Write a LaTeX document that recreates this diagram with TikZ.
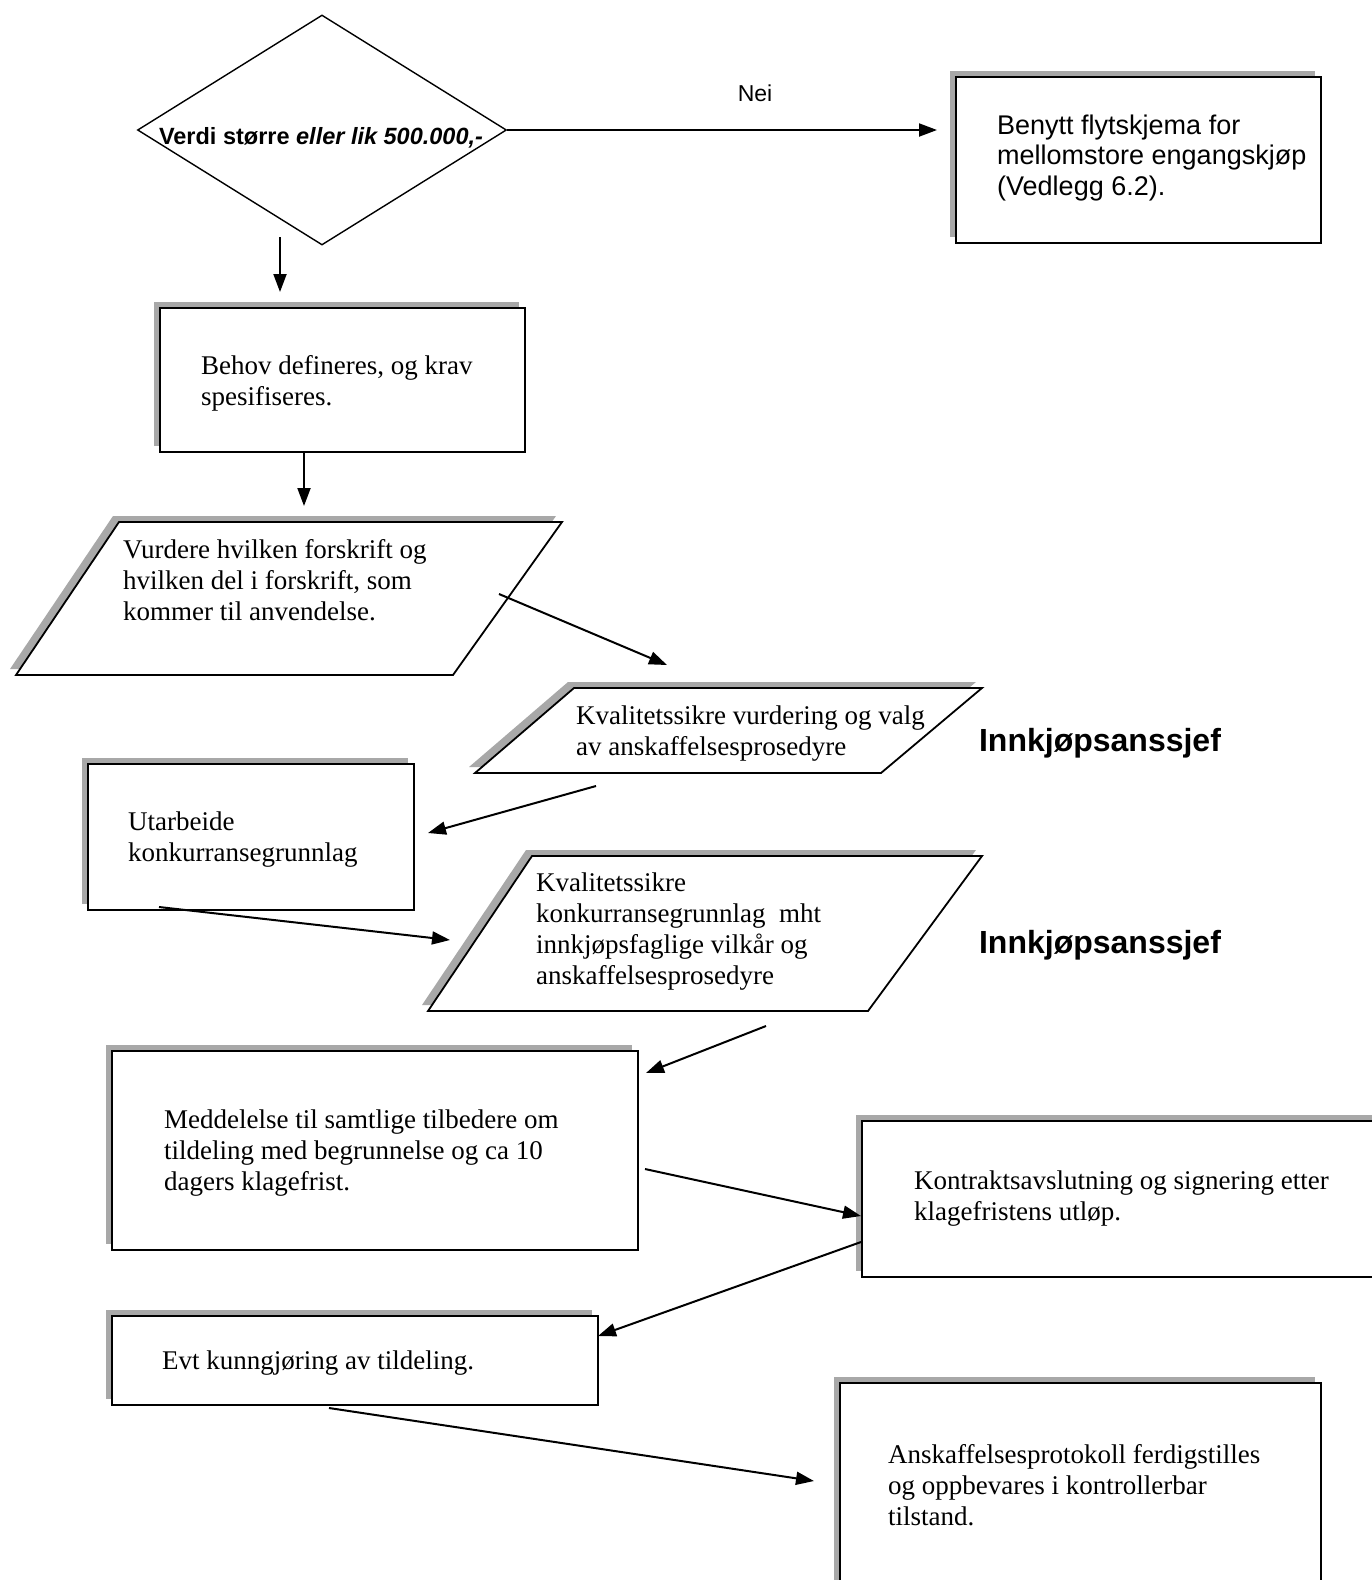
\documentclass[tikz,border=0pt]{standalone}
\usepackage{fontspec}
\setmainfont{Liberation Serif}
\newfontfamily\arialfont{Liberation Sans}
\usetikzlibrary{shapes.geometric,shadows,arrows.meta,positioning}

\begin{document}
\begin{tikzpicture}[x=1pt,y=-1pt,
    skygge/.style={general shadow={fill=gray!68,shadow xshift=-6pt,shadow yshift=6pt}},
    boks/.style={draw,line width=1.8pt,fill=white,skygge,anchor=north west,inner sep=0pt},
    parall/.style={draw,line width=1.8pt,fill=white,skygge},
    tekst/.style={inner sep=0pt,align=left,font=\fontsize{27}{31}\selectfont},
    arialtekst/.style={inner sep=0pt,align=left,font=\arialfont\fontsize{27}{30.7}\selectfont},
    pil/.style={-{Triangle[length=18pt,width=13pt]},line width=2pt},
    sjef/.style={font=\arialfont\bfseries\fontsize{32}{36}\selectfont}]

	\useasboundingbox (0,0) rectangle (1372,1580);
	\clip (0,0) rectangle (1372,1580);

	% beslutning
	\node[diamond,draw,line width=1.4pt,minimum width=369,minimum height=230,inner sep=0pt] (verdi) at (322,130) {};
	\node[inner sep=0pt,font=\arialfont\bfseries\fontsize{23.5}{27}\selectfont] (verditxt) at (321,138) {Verdi større \textit{eller lik 500.000,-}};
	\node[font=\arialfont\fontsize{23}{26}\selectfont] (nei) at (755,93) {Nei};

	% boksene
	\node[boks,minimum width=365,minimum height=166] (benytt) at (955,76) {};
	\node[arialtekst,right=42pt of benytt.west,yshift=2pt] (benytttxt) {Benytt flytskjema for\\mellomstore engangskjøp\\(Vedlegg 6.2).};

	\node[boks,minimum width=365,minimum height=144] (behov) at (159,307) {};
	\node[tekst,right=42pt of behov.west,yshift=-3pt] (behovtxt) {Behov defineres, og krav\\spesifiseres.};

	\node[boks,minimum width=326,minimum height=146] (utarb) at (87,763) {};
	\node[tekst,right=41pt of utarb.west,yshift=-3pt] (utarbtxt) {Utarbeide\\konkurransegrunnlag};

	\node[boks,minimum width=526,minimum height=199] (medd) at (111,1050) {};
	\node[tekst,right=53pt of medd.west,yshift=-3pt] (meddtxt) {Meddelelse til samtlige tilbedere om\\tildeling med begrunnelse og ca 10\\dagers klagefrist.};

	\node[boks,minimum width=540,minimum height=156] (kontr) at (861,1120) {};
	\node[tekst,right=53pt of kontr.west] (kontrtxt) {Kontraktsavslutning og signering etter\\klagefristens utløp.};

	\node[boks,minimum width=486,minimum height=89] (evt) at (111,1315) {};
	\node[tekst,right=51pt of evt.west,yshift=-3pt] (evttxt) {Evt kunngjøring av tildeling.};

	\node[boks,minimum width=481,minimum height=204] (anskaff) at (839,1382) {};
	\node[tekst,right=49pt of anskaff.west] (anskafftxt) {Anskaffelsesprotokoll ferdigstilles\\og oppbevares i kontrollerbar\\tilstand.};

	% parallellogrammene
	\draw[parall] (119,522) -- (562,522) -- (453,675) -- (16,675) -- cycle;
	\node[tekst,anchor=west] (vurdtxt) at (123,580) {Vurdere hvilken forskrift og\\hvilken del i forskrift, som\\kommer til anvendelse.};

	\draw[parall] (574,688) -- (982,688) -- (881,773) -- (475,773) -- cycle;
	\node[tekst,anchor=west] (kval1txt) at (576,734) {Kvalitetssikre vurdering og valg\\av anskaffelsesprosedyre};

	\draw[parall] (532,856) -- (982,856) -- (868,1011) -- (428,1011) -- cycle;
	\node[tekst,anchor=west] (kval2txt) at (536,932) {Kvalitetssikre\\konkurransegrunnlag\ \ mht\\innkjøpsfaglige vilkår og\\anskaffelsesprosedyre};

	\node[sjef] (sjef1) at (1100,743) {Innkjøpsanssjef};
	\node[sjef] (sjef2) at (1100,945) {Innkjøpsanssjef};

	% endepunkter for pilene
	\coordinate (neislutt) at (937,130);
	\coordinate (ned1a) at (280,237);
	\coordinate (ned1b) at (280,292);
	\coordinate (ned2a) at (304,451);
	\coordinate (ned2b) at (304,506);
	\coordinate (vurdut) at (499,594);
	\coordinate (kval1inn) at (667,665);
	\coordinate (kval1ut) at (596,786);
	\coordinate (utarbinn) at (428,833);
	\coordinate (utarbut) at (159,907);
	\coordinate (kval2inn) at (450,940);
	\coordinate (kval2ut) at (766,1026);
	\coordinate (meddinn) at (646,1073);
	\coordinate (meddut) at (645,1169);
	\coordinate (kontrinn) at (861,1216);
	\coordinate (kontrut) at (861,1242);
	\coordinate (evtinn) at (598,1336);
	\coordinate (evtut) at (329,1408);
	\coordinate (anskaffinn) at (814,1481);

	% pilene
	\draw[pil] (verdi.east) -- (neislutt); % nei
	\draw[pil] (ned1a) -- (ned1b); % ja
	\draw[pil] (ned2a) -- (ned2b);
	\draw[pil] (vurdut) -- (kval1inn);
	\draw[pil] (kval1ut) -- (utarbinn);
	\draw[pil] (utarbut) -- (kval2inn);
	\draw[pil] (kval2ut) -- (meddinn);
	\draw[pil] (meddut) -- (kontrinn);
	\draw[pil] (kontrut) -- (evtinn);
	\draw[pil] (evtut) -- (anskaffinn);
\end{tikzpicture}
\end{document}
